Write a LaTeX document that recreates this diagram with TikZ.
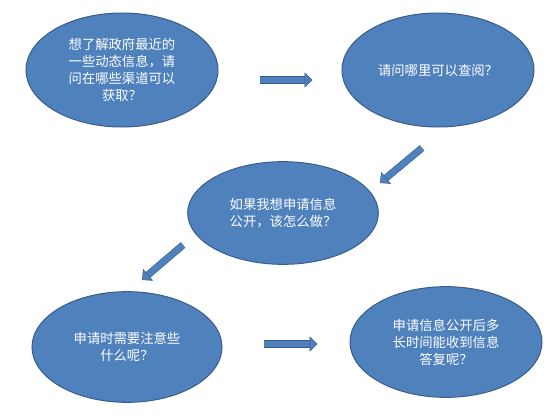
\documentclass[tikz,border=0pt]{standalone}
\usepackage{fontspec}
\setmainfont{Noto Sans CJK SC}
\usepackage{xcolor}
\usepackage{tikz}
\usetikzlibrary{shapes.geometric,arrows.meta,calc}
\definecolor{bubblefill}{HTML}{4F81BD}
\definecolor{bubbleedge}{HTML}{385D8A}

\begin{document}
\begin{tikzpicture}[
x=0.75pt, y=-0.75pt,
bubble/.style={
ellipse,
draw=bubbleedge,
fill=bubblefill,
line width=0.75pt,
text=white,
align=center,
inner sep=0pt,
font=\fontsize{10}{12.75}\selectfont,
minimum width=144pt,
minimum height=85.5pt
},
fatarrow/.style={
draw=bubbleedge,
line width=0.4pt,
double=bubblefill,
double distance=4.6pt,
-{Triangle[length=6pt,width=11.5pt,fill=bubblefill]}
}
]

\useasboundingbox (0,0) rectangle (554,415);

\node[bubble] (ask) at (122,70) {想了解政府最近的\\一些动态信息，请\\问在哪些渠道可以\\获取？};
\node[bubble] (where) at (438,70) {请问哪里可以查阅？};
\node[bubble, minimum width=143pt, minimum height=77pt] (apply) at (283,213) {如果我想申请信息\\公开，该怎么做？};
\node[bubble, minimum width=142.5pt, minimum height=83pt] (notice) at (127,347) {申请时需要注意些\\什么呢？};
\node[bubble, minimum height=83pt] (reply) at (446,342) {申请信息公开后多\\长时间能收到信息\\答复呢？};

\draw[fatarrow, shorten <=30.75pt, shorten >=21.75pt] ($(ask.east)+(0,10)$) -- ($(where.west)+(0,10)$);
\draw[fatarrow] ($(where.center)+(-16,78)$) -- ($(apply.center)+(97,-30)$);
\draw[fatarrow] ($(apply.center)+(-100,32)$) -- ($(notice.center)+(15,-67)$);
\draw[fatarrow, shorten <=30.75pt, shorten >=24pt] ($(notice.east)+(0,-3)$) -- ($(reply.west)+(0,2)$);

\end{tikzpicture}
\end{document}
